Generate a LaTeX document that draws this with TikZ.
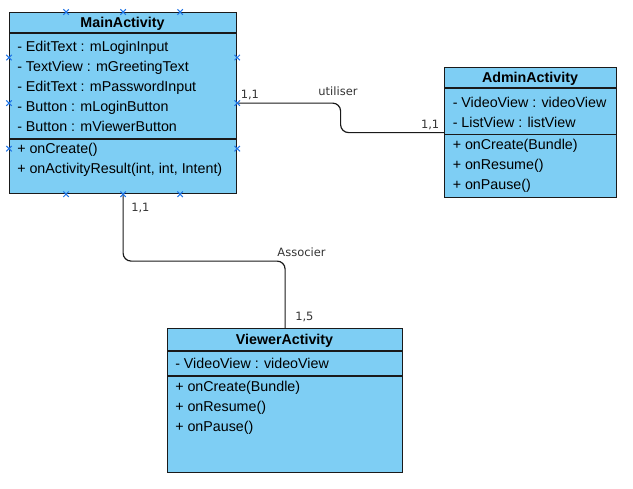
\documentclass[tikz,border=0pt]{standalone}
\usepackage{fontspec}
\setmainfont{Liberation Sans}
\newfontfamily\lblfont{DejaVu Sans}
\usetikzlibrary{calc}
\definecolor{clsfill}{HTML}{7ECEF4}
\definecolor{xblue}{HTML}{1F74E6}
\definecolor{lblgray}{HTML}{333333}
\definecolor{edge}{HTML}{1A1A1A}
\begin{document}
\begin{tikzpicture}[x=0.75pt,y=-0.75pt,
  cls/.style={draw=edge, fill=clsfill, line width=0.9pt, inner sep=0pt, anchor=north west, rectangle},
  row/.style={anchor=base west, inner sep=0pt, font=\fontsize{10.7}{12}\selectfont},
  ttl/.style={anchor=base, inner sep=0pt, font=\fontsize{10.7}{12}\selectfont\bfseries},
  sepline/.style={line width=0.9pt, draw=edge},
  conn/.style={line width=0.9pt, draw=edge, rounded corners=6pt},
  lbl/.style={font=\lblfont\fontsize{8.6}{10}\selectfont, text=lblgray, inner sep=0pt},
  xm/.style={draw=xblue, line width=0.75pt}]
\useasboundingbox (0,0) rectangle (633,489);

% class boxes
\node[cls, minimum width=170.25pt, minimum height=135.75pt] (main) at (9,12) {};
\node[cls, minimum width=129pt, minimum height=97.5pt] (admin) at (444,67) {};
\node[cls, minimum width=176.25pt, minimum height=108pt] (viewer) at (167,328) {};

% MainActivity
\draw[sepline] (9,33) -- (236,33);
\draw[sepline] (9,139) -- (236,139);
\node[ttl] (mt) at (122.5,27) {MainActivity};
\node[row] (ma1) at (17,51.7) {- EditText : mLoginInput};
\node[row] (ma2) at (17,71.7) {- TextView : mGreetingText};
\node[row] (ma3) at (17,91.7) {- EditText : mPasswordInput};
\node[row] (ma4) at (17,111.7) {- Button : mLoginButton};
\node[row] (ma5) at (17,131.7) {- Button : mViewerButton};
\node[row] (mm1) at (17,153.7) {+ onCreate()};
\node[row] (mm2) at (17,173.7) {+ onActivityResult(int, int, Intent)};

% AdminActivity
\draw[sepline] (444,88) -- (616,88);
\draw[sepline] (444,134.5) -- (616,134.5);
\node[ttl] (at) at (530,82.3) {AdminActivity};
\node[row] (aa1) at (452.5,107.3) {- VideoView : videoView};
\node[row] (aa2) at (452.5,127.3) {- ListView : listView};
\node[row] (am1) at (452.5,149.3) {+ onCreate(Bundle)};
\node[row] (am2) at (452.5,169.3) {+ onResume()};
\node[row] (am3) at (452.5,189.3) {+ onPause()};

% ViewerActivity
\draw[sepline] (167,351) -- (402,351);
\draw[sepline] (167,376) -- (402,376);
\node[ttl] (vt) at (284.5,344) {ViewerActivity};
\node[row] (va1) at (175,368.7) {- VideoView : videoView};
\node[row] (vm1) at (175,391.7) {+ onCreate(Bundle)};
\node[row] (vm2) at (175,411.7) {+ onResume()};
\node[row] (vm3) at (175,431.7) {+ onPause()};

% connectors
\coordinate (mid1) at ($(main.east)!0.5!(admin.west)$);
\draw[conn] (main.east) -| (mid1) |- (admin.west);
\coordinate (mid2) at ($(main.south)!0.5!(viewer.north)$);
\draw[conn] (main.south) |- (mid2) -| (viewer.north);

% labels
\node[lbl, anchor=west] (l1) at (240.5,94.5) {1,1};
\node[lbl] (l2) at (338,91) {utiliser};
\node[lbl, anchor=east] (l3) at (439.5,124.5) {1,1};
\node[lbl, anchor=west] (l4) at (131,207.5) {1,1};
\node[lbl] (l5) at (301.5,252.5) {Associer};
\node[lbl, anchor=west] (l6) at (295,316.5) {1,5};

% connection point markers
\foreach \f in {0.25,0.5,0.75}{
  \foreach \a/\b in {north west/north east, south west/south east, north west/south west, north east/south east}{
    \coordinate (cp) at ($(main.\a)!\f!(main.\b)$);
    \draw[xm] ($(cp)+(-2.7,-2.7)$) -- ($(cp)+(2.7,2.7)$)
              ($(cp)+(-2.7,2.7)$) -- ($(cp)+(2.7,-2.7)$);
  }
}
\end{tikzpicture}
\end{document}
